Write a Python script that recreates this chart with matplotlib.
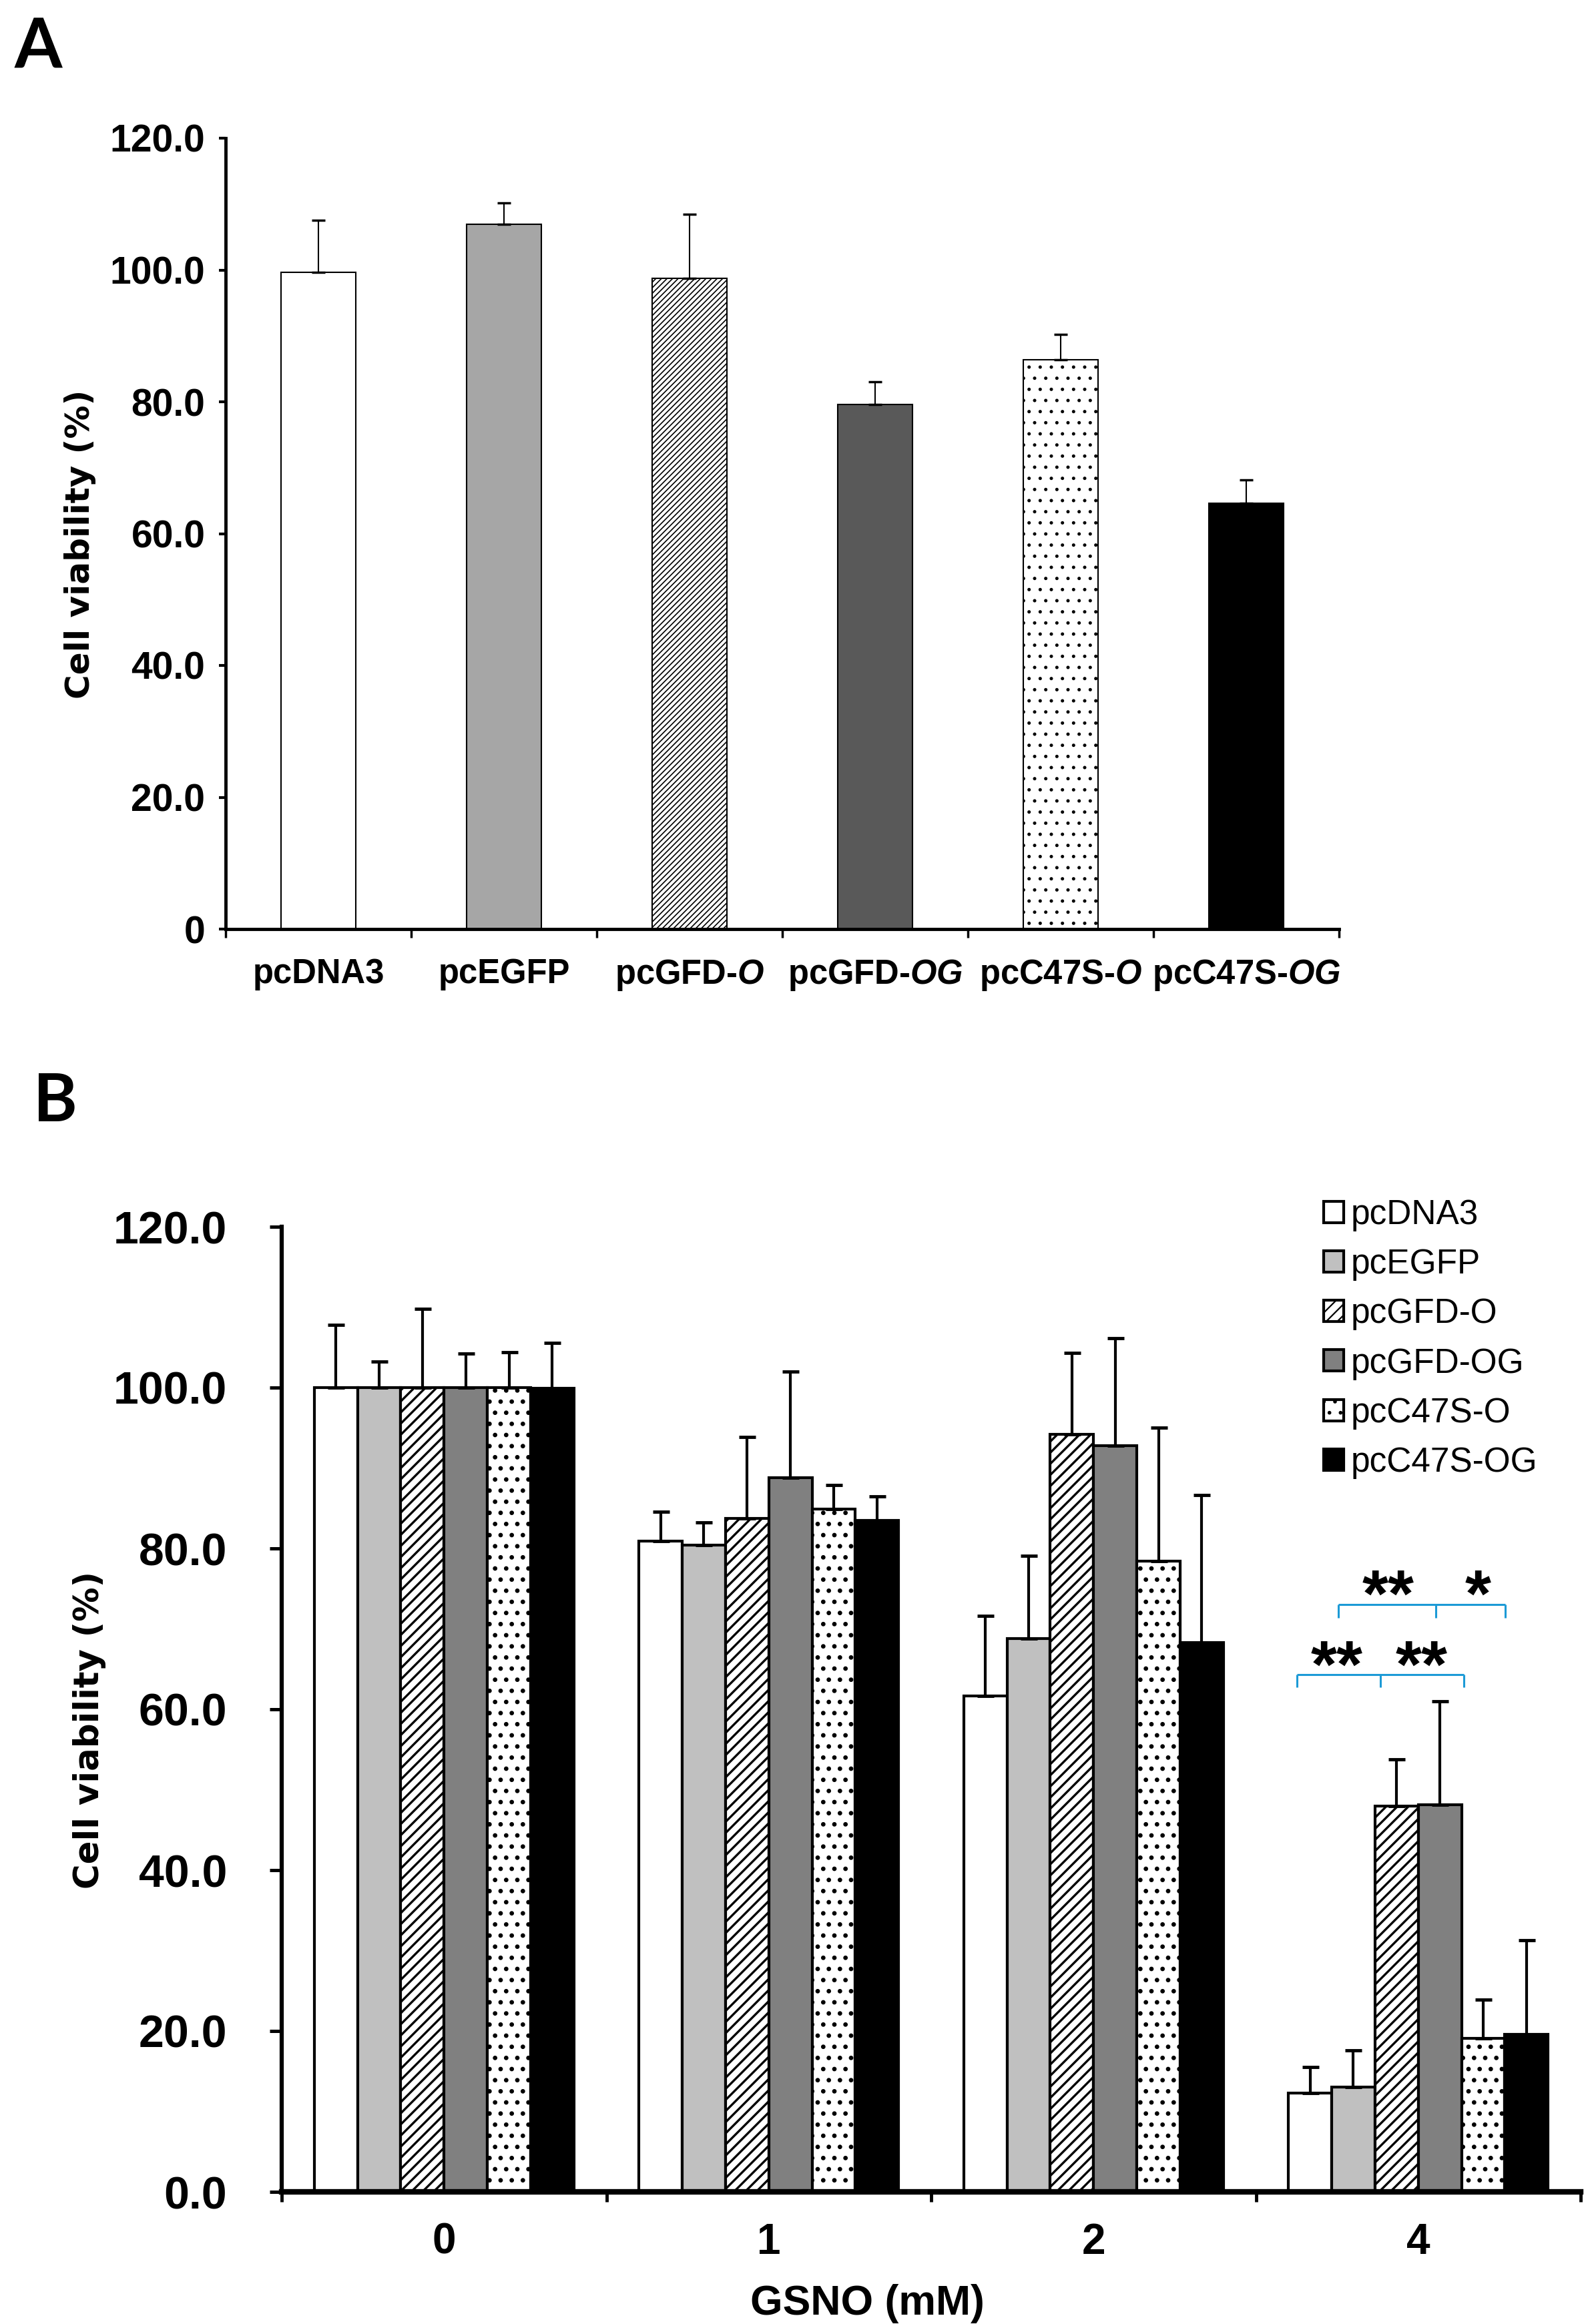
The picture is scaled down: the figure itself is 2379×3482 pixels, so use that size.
import numpy as np
import matplotlib
matplotlib.use("Agg")
import matplotlib.pyplot as plt
from matplotlib.patches import Patch

plt.rcParams['font.family'] = ['Liberation Sans', 'DejaVu Sans']
plt.rcParams['mathtext.fontset'] = 'custom'
plt.rcParams['mathtext.it'] = 'Liberation Sans:italic:bold'
plt.rcParams['mathtext.rm'] = 'Liberation Sans:bold'
plt.rcParams['hatch.linewidth'] = 1.6

# ---- panel A data ----
a_labels = ['pcDNA3', 'pcEGFP', 'pcGFD-$\\mathit{O}$', 'pcGFD-$\\mathit{OG}$',
            'pcC47S-$\\mathit{O}$', 'pcC47S-$\\mathit{OG}$']
a_mean = [99.6, 106.9, 98.7, 79.6, 86.4, 64.6]
a_err = [7.9, 3.3, 9.8, 3.4, 3.8, 3.6]

# ---- panel B data ----
doses = ['0', '1', '2', '4']
constructs = ['pcDNA3', 'pcEGFP', 'pcGFD-O', 'pcGFD-OG', 'pcC47S-O', 'pcC47S-OG']
b_pcdna3 = [100.0, 80.9, 61.7, 12.3]
b_pcegfp = [100.0, 80.4, 68.8, 13.0]
b_pcgfd_o = [100.0, 83.7, 94.2, 48.0]
b_pcgfd_og = [100.0, 88.8, 92.8, 48.1]
b_pcc47s_o = [100.0, 84.9, 78.4, 19.1]
b_pcc47s_og = [99.9, 83.5, 68.3, 19.6]
e_pcdna3 = [7.8, 3.7, 9.9, 3.2]
e_pcegfp = [3.2, 2.8, 10.3, 4.6]
e_pcgfd_o = [9.8, 10.2, 10.1, 5.8]
e_pcgfd_og = [4.2, 13.2, 13.3, 12.9]
e_pcc47s_o = [4.4, 3.0, 16.6, 4.8]
e_pcc47s_og = [5.7, 3.0, 18.3, 11.7]

# significance brackets at 4 mM (x in group units, y in %)
brk_low_x = [2.626, 2.883, 3.140]
brk_low_y = 64.3
brk_up_x = [2.754, 3.054, 3.268]
brk_up_y = 73.0
stars_text = ['**', '*', '**', '**']
stars_x = [2.908, 3.183, 2.750, 3.010]
stars_y = [71.6, 71.6, 62.8, 62.8]

a_colors = ['white', '#a6a6a6', 'white', '#595959', 'white', 'black']
a_hatch = [None, None, '////', None, '.', None]
b_colors = ['white', '#c0c0c0', 'white', '#808080', 'white', 'black']
b_hatch = [None, None, '//', None, '.', None]


def hatch_lw(patch, lw):
    # per-patch hatch width where the matplotlib version allows it
    if hasattr(patch, 'set_hatch_linewidth'):
        patch.set_hatch_linewidth(lw)


W, H = 2379, 3482
fig = plt.figure(figsize=(W / 100, H / 100), dpi=100)

# ================= Panel A =================
axA = fig.add_axes([338 / W, 1 - 1392 / H, (2006 - 338) / W, (1392 - 207) / H])
xa = np.arange(len(a_labels))
barsA = axA.bar(xa, a_mean, width=0.4, color=a_colors, edgecolor='black',
                linewidth=1.5, zorder=2)
for b, h in zip(barsA, a_hatch):
    if h:
        b.set_hatch(h)
        hatch_lw(b, 1.2)
axA.errorbar(xa, a_mean, yerr=[np.zeros(len(a_err)), a_err], fmt='none',
             ecolor='black', elinewidth=1.5, capsize=7, capthick=2.5, zorder=3)
axA.set_xlim(-0.5, len(a_labels) - 0.5)
axA.set_ylim(0, 120)
axA.set_yticks(np.arange(0, 121, 20))
axA.set_yticklabels(['0'] + ['%.1f' % v for v in np.arange(20, 121, 20)])
axA.set_xticks(xa)
axA.set_xticklabels(a_labels)
axA.set_xticks(np.arange(-0.5, len(a_labels)), minor=True)
axA.tick_params(axis='x', which='major', length=0, pad=31, labelsize=36.5)
axA.tick_params(axis='x', which='minor', length=9.5, width=2.5, direction='out')
axA.tick_params(axis='y', length=7, width=3, pad=15, labelsize=41)
for lab in axA.get_xticklabels() + axA.get_yticklabels():
    lab.set_fontweight('bold')
for s in ['top', 'right']:
    axA.spines[s].set_visible(False)
axA.spines['left'].set_linewidth(3.5)
axA.spines['bottom'].set_linewidth(3.5)

fig.text(22 / W, 1 - 102 / H, 'A', fontsize=74, fontweight='bold',
         family=['Lato', 'Liberation Sans'], va='baseline', ha='left')
fig.text(120 / W, 1 - 815 / H, 'Cell viability (%)', rotation=90, fontsize=36,
         fontweight='bold', family=['DejaVu Sans'], ha='center', va='center')

# ================= Panel B =================
axB = fig.add_axes([422 / W, 1 - 3284 / H, (2368 - 422) / W, (3284 - 1838) / H])
xb = np.arange(len(doses))
b_means = [b_pcdna3, b_pcegfp, b_pcgfd_o, b_pcgfd_og, b_pcc47s_o, b_pcc47s_og]
b_errs = [e_pcdna3, e_pcegfp, e_pcgfd_o, e_pcgfd_og, e_pcc47s_o, e_pcc47s_og]
w = 0.8 / len(constructs)
handles = []
for j, (m, e) in enumerate(zip(b_means, b_errs)):
    pos = xb + (j - 2.5) * w
    bars = axB.bar(pos, m, width=w, color=b_colors[j], edgecolor='black',
                   linewidth=3, hatch=b_hatch[j], zorder=2)
    if b_hatch[j]:
        for b in bars:
            hatch_lw(b, 2.4)
    axB.errorbar(pos, m, yerr=[np.zeros(len(e)), e], fmt='none', ecolor='black',
                 elinewidth=3, capsize=9, capthick=3.5, zorder=3)
    hp = Patch(facecolor=b_colors[j], edgecolor='black', linewidth=3,
               hatch=b_hatch[j])
    handles.append(hp)

axB.set_xlim(-0.5, len(doses) - 0.5)
axB.set_ylim(0, 120)
axB.set_yticks(np.arange(0, 121, 20))
axB.set_yticklabels(['%.1f' % v for v in np.arange(0, 121, 20)])
axB.set_xticks(xb)
axB.set_xticklabels(doses)
axB.set_xticks(np.arange(-0.5, len(doses)), minor=True)
axB.tick_params(axis='x', which='major', length=0, pad=33, labelsize=46)
axB.tick_params(axis='x', which='minor', length=11, width=3.5, direction='out')
axB.tick_params(axis='y', length=13, width=3.6, pad=46, labelsize=49)
for lab in axB.get_xticklabels() + axB.get_yticklabels():
    lab.set_fontweight('bold')
for s in ['top', 'right']:
    axB.spines[s].set_visible(False)
axB.spines['left'].set_linewidth(4.5)
axB.spines['bottom'].set_linewidth(6)

# brackets
blue = '#1c9ad6'
tick_h = 1.6
for bx, by in [(brk_low_x, brk_low_y), (brk_up_x, brk_up_y)]:
    axB.plot([bx[0], bx[-1]], [by, by], color=blue, lw=2.2, solid_capstyle='butt',
             clip_on=False)
    for x in bx:
        axB.plot([x, x], [by, by - tick_h], color=blue, lw=2.2,
                 solid_capstyle='butt', clip_on=False)
for t, x, y in zip(stars_text, stars_x, stars_y):
    axB.text(x, y, t, fontsize=72, fontweight='bold', ha='center', va='baseline')

leg = axB.legend(handles, constructs, loc='upper left',
                 bbox_to_anchor=(1983 / W, 1 - 1796 / H),
                 bbox_transform=fig.transFigure, frameon=False, fontsize=37,
                 borderpad=0, borderaxespad=0, handlelength=0.58,
                 handleheight=0.58, handletextpad=0.22, labelspacing=0.49)

fig.text(50 / W, 1 - 1680 / H, 'B', fontsize=72, fontweight='bold',
         family=['Lato', 'Liberation Sans'], va='baseline', ha='left')
fig.text(134 / W, 1 - 2592 / H, 'Cell viability (%)', rotation=90, fontsize=37,
         fontweight='bold', family=['DejaVu Sans'], ha='center', va='center')
fig.text(1299 / W, 1 - 3468 / H, 'GSNO (mM)', fontsize=45, fontweight='bold',
         ha='center', va='baseline')

fig.savefig('out.png', dpi=100)
